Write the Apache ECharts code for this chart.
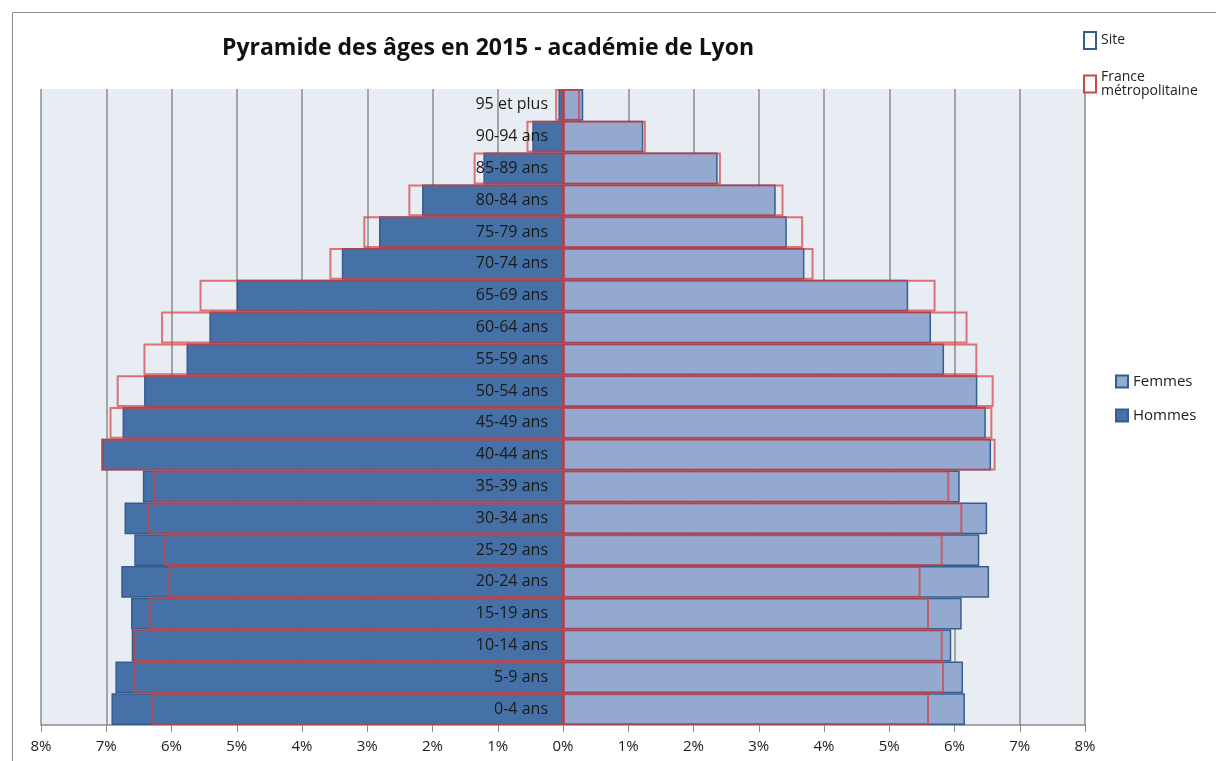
<!DOCTYPE html>
<html>
<head>
<meta charset="utf-8">
<script src="https://cdn.jsdelivr.net/npm/echarts@6/dist/echarts.min.js"></script>
<style>
  html, body { margin: 0; padding: 0; background: #fff; }
  #chart { width: 1216px; height: 761px; }
</style>
</head>
<body>
<div id="chart"></div>
<script>
// tranches d'âge, du bas vers le haut
const categories = ['0-4 ans', '5-9 ans', '10-14 ans', '15-19 ans', '20-24 ans', '25-29 ans', '30-34 ans',
  '35-39 ans', '40-44 ans', '45-49 ans', '50-54 ans', '55-59 ans', '60-64 ans', '65-69 ans',
  '70-74 ans', '75-79 ans', '80-84 ans', '85-89 ans', '90-94 ans', '95 et plus']
// site (académie de Lyon), en %
const hommesSite = [6.92, 6.86, 6.61, 6.62, 6.77, 6.57, 6.72, 6.44, 7.07, 6.75, 6.42, 5.77, 5.42, 5.00, 3.39, 2.82, 2.16, 1.22, 0.47, 0.07]
const femmesSite = [6.16, 6.13, 5.95, 6.11, 6.53, 6.38, 6.50, 6.08, 6.56, 6.48, 6.35, 5.84, 5.64, 5.29, 3.70, 3.43, 3.26, 2.37, 1.23, 0.31]
// France métropolitaine, en %
const hommesFrance = [6.31, 6.58, 6.58, 6.35, 6.05, 6.12, 6.37, 6.27, 7.08, 6.95, 6.84, 6.43, 6.16, 5.57, 3.58, 3.06, 2.37, 1.37, 0.56, 0.12]
const femmesFrance = [5.61, 5.84, 5.82, 5.61, 5.48, 5.82, 6.12, 5.92, 6.63, 6.58, 6.60, 6.35, 6.20, 5.71, 3.84, 3.68, 3.38, 2.42, 1.27, 0.26]

const font = '"Liberation Sans Narrow", "Open Sans", sans-serif'
const siteBorder = '#355d8e'
const franceRed = 'rgba(214, 62, 62, 0.7)'

let myChart = echarts.init(document.getElementById('chart'))
let option = {
  animation: false,
  textStyle: { fontFamily: font },
  title: {
    text: 'Pyramide des âges en 2015 - académie de Lyon',
    left: 483,
    textAlign: 'center',
    top: 32,
    textStyle: { fontSize: 23, fontWeight: 'bold', color: '#111', fontFamily: font }
  },
  graphic: [
    // cadre du graphique
    {
      type: 'rect',
      shape: { x: 12.5, y: 12.5, width: 1240, height: 800 },
      style: { fill: 'none', stroke: '#8a8a8a', lineWidth: 1 },
      silent: true
    }
  ],
  legend: [
    {
      orient: 'vertical',
      left: 1078,
      top: 26,
      itemGap: 20,
      itemWidth: 12,
      itemHeight: 17,
      selectedMode: false,
      textStyle: { fontSize: 14, color: '#222', verticalAlign: 'top', padding: [-14, 0, 0, 0] },
      formatter: function (name) {
        return name === 'France métropolitaine' ? 'France\nmétropolitaine' : name
      },
      data: [
        { name: 'Site', icon: 'rect', itemStyle: { color: '#fff', borderColor: siteBorder, borderWidth: 2 } },
        { name: 'France métropolitaine', icon: 'rect', itemStyle: { color: '#fff', borderColor: '#c84a4a', borderWidth: 2 } }
      ]
    },
    {
      orient: 'vertical',
      left: 1110,
      top: 369,
      itemGap: 19,
      itemWidth: 12,
      itemHeight: 12,
      selectedMode: false,
      textStyle: { fontSize: 15, color: '#222' },
      data: [
        { name: 'Femmes', icon: 'rect' },
        { name: 'Hommes', icon: 'rect' }
      ]
    }
  ],
  grid: {
    left: 41,
    right: 131,
    top: 89,
    bottom: 36,
    containLabel: false,
    outerBoundsMode: 'none',
    show: true,
    backgroundColor: '#e8ecf3',
    borderWidth: 0
  },
  xAxis: {
    type: 'value',
    min: -8,
    max: 8,
    interval: 1,
    axisLine: { show: true, lineStyle: { color: '#8a8a8a', width: 1.5 } },
    axisTick: { show: true, length: 7, lineStyle: { color: '#8a8a8a' } },
    axisLabel: {
      color: '#222',
      fontSize: 15,
      margin: 14,
      formatter: function (v) { return Math.abs(v) + '%' }
    },
    splitLine: { show: true, lineStyle: { color: '#8c8c8c', width: 1.5 } }
  },
  yAxis: {
    type: 'category',
    data: categories,
    position: 'left',
    offset: -521, // libellés posés sur l'axe 0 %
    z: 10,
    axisLine: { show: false, onZero: false },
    axisTick: { show: false },
    axisLabel: { color: '#1a1a1a', fontSize: 16, margin: 14 }
  },
  series: [
    {
      name: 'Hommes',
      type: 'bar',
      data: hommesSite.map(v => -v),
      barWidth: '100%',
      barGap: '-100%',
      barCategoryGap: 0,
      itemStyle: { color: '#4571a6', borderColor: siteBorder, borderWidth: 1.5 }
    },
    {
      name: 'Femmes',
      type: 'bar',
      data: femmesSite,
      barWidth: '100%',
      barGap: '-100%',
      itemStyle: { color: '#94a9d0', borderColor: siteBorder, borderWidth: 1.5 }
    },
    {
      name: 'France métropolitaine',
      type: 'bar',
      data: hommesFrance.map(v => -v),
      barWidth: '100%',
      barGap: '-100%',
      itemStyle: { color: 'transparent', borderColor: franceRed, borderWidth: 2 }
    },
    {
      name: 'France métropolitaine',
      type: 'bar',
      data: femmesFrance,
      barWidth: '100%',
      barGap: '-100%',
      itemStyle: { color: 'transparent', borderColor: franceRed, borderWidth: 2 }
    },
    {
      // entrée de légende uniquement
      name: 'Site',
      type: 'line',
      data: [],
      itemStyle: { color: siteBorder }
    }
  ]
}
myChart.setOption(option)
window.addEventListener('resize', function () {
  myChart.resize()
})
</script>
</body>
</html>
